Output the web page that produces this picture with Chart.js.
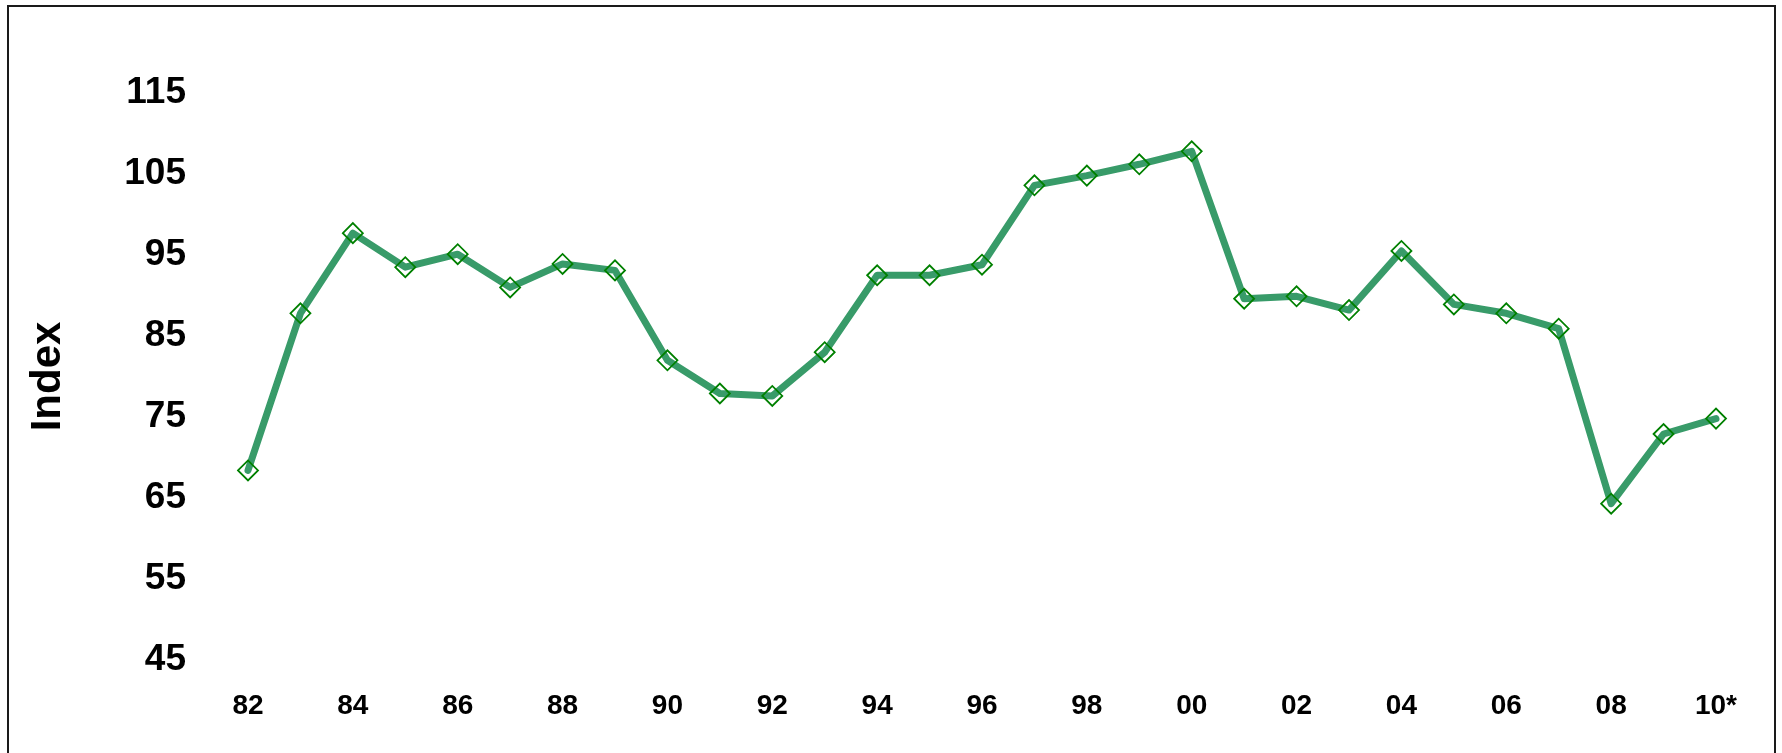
<!DOCTYPE html>
<html>
<head>
<meta charset="utf-8">
<script src="https://cdn.jsdelivr.net/npm/chart.js@4"></script>
<style>
  html, body { margin: 0; padding: 0; background: #ffffff; }
  #wrap { width: 1782px; height: 753px; position: relative; }
</style>
</head>
<body>
<div id="wrap"><canvas id="chart" width="1782" height="753"></canvas></div>
<script>
// Years on the category axis (only every other one is labelled)
const years = ['82','83','84','85','86','87','88','89','90','91','92','93','94','95','96',
               '97','98','99','00','01','02','03','04','05','06','07','08','09','10*'];

// Index values per year
const indexValues = [68.4, 87.8, 97.7, 93.5, 95.1, 91.0, 93.9, 93.1, 82.0, 77.9, 77.6, 83.0,
                     92.5, 92.5, 93.8, 103.6, 104.8, 106.2, 107.8, 89.6, 89.9, 88.2, 95.5,
                     88.9, 87.8, 85.9, 64.3, 72.9, 74.8];

// Value axis ticks
const yTicks = [45, 55, 65, 75, 85, 95, 105, 115];

const FONT = '"Liberation Sans", Arial, Helvetica, sans-serif';

// Thin frame around the whole figure
const framePlugin = {
  id: 'frame',
  beforeDraw(chart) {
    const ctx = chart.ctx;
    ctx.save();
    ctx.fillStyle = '#ffffff';
    ctx.fillRect(0, 0, chart.width, chart.height);
    ctx.strokeStyle = '#1a1a1a';
    ctx.lineWidth = 2;
    ctx.strokeRect(8, 6, 1767, 760);
    ctx.restore();
  }
};

new Chart(document.getElementById('chart'), {
  type: 'line',
  data: {
    labels: years,
    datasets: [{
      label: 'Index',
      data: indexValues,
      borderColor: '#389b69',
      borderWidth: 7,
      borderCapStyle: 'round',
      borderJoinStyle: 'round',
      tension: 0,
      pointStyle: 'rectRot',
      pointRadius: 10,
      pointBorderColor: '#008000',
      pointBorderWidth: 1.8,
      pointBackgroundColor: 'rgba(0,0,0,0)',
      fill: false
    }]
  },
  options: {
    responsive: false,
    animation: false,
    layout: { padding: { left: 0, top: 93, right: 66, bottom: 0 } },
    plugins: {
      legend: { display: false },
      tooltip: { enabled: false },
      title: { display: false }
    },
    scales: {
      x: {
        offset: false,
        grid: { display: false, drawTicks: false },
        border: { display: false },
        ticks: {
          autoSkip: false,
          maxRotation: 0,
          padding: 29,
          color: '#000000',
          font: { family: FONT, size: 28, weight: 'bold' },
          callback: (v, i) => (i % 2 === 0 ? years[i] : '')
        },
        afterFit(scale) { scale.height = 93; }
      },
      y: {
        min: 45,
        max: 115,
        afterBuildTicks(scale) { scale.ticks = yTicks.map(v => ({ value: v })); },
        grid: { display: false, drawTicks: false },
        border: { display: false },
        ticks: {
          padding: 62,
          color: '#000000',
          font: { family: FONT, size: 37, weight: 'bold' }
        },
        title: {
          display: true,
          text: 'Index',
          color: '#000000',
          padding: { top: 23, bottom: 0 },
          font: { family: FONT, size: 42, weight: 'bold' }
        },
        afterFit(scale) { scale.width = 248; }
      }
    }
  },
  plugins: [framePlugin]
});
</script>
</body>
</html>
